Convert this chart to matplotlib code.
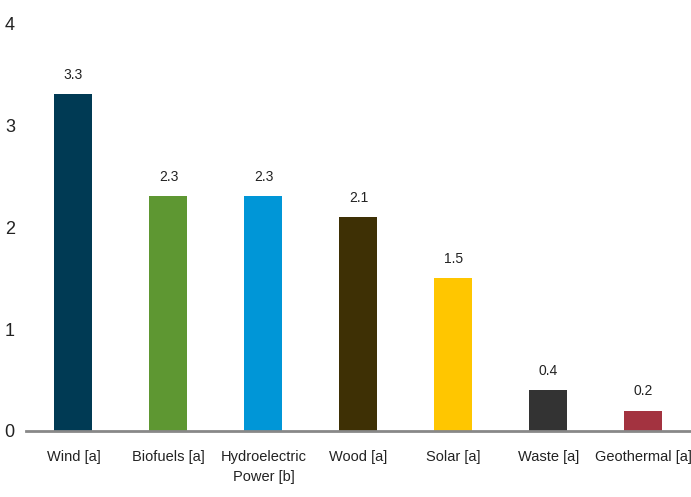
import matplotlib
matplotlib.use("Agg")
import matplotlib.pyplot as plt

# Data
categories = ["Wind [a]", "Biofuels [a]", "Hydroelectric\nPower [b]", "Wood [a]",
              "Solar [a]", "Waste [a]", "Geothermal [a]"]
values = [3.3, 2.3, 2.3, 2.1, 1.5, 0.4, 0.2]
colors = ["#003A54", "#5E9732", "#0096D7", "#3E3005", "#FFC600", "#333333", "#A33340"]
yticks = [0, 1, 2, 3, 4]

plt.rcParams['font.family'] = ['Liberation Sans', 'DejaVu Sans']

fig = plt.figure(figsize=(6.91, 4.97), dpi=100)
ax = fig.add_axes([0.0376, 0.1328, 0.9624, 0.8209])

x = range(len(categories))
bars = ax.bar(x, values, width=0.4, color=colors)
for b, v in zip(bars, values):
    ax.text(b.get_x() + b.get_width() / 2, v + 0.12, f"{v:.1f}",
            ha="center", va="bottom", fontsize=10, color="#222222")

ax.set_xlim(-0.5, len(categories) - 0.5)
ax.set_ylim(0, 4)
ax.set_yticks(yticks)
ax.set_xticks(list(x))
ax.set_xticklabels(categories, fontsize=10.5, color="#222222", linespacing=1.5)
ax.tick_params(axis="y", length=0, labelsize=13, labelcolor="#222222", pad=8)
ax.tick_params(axis="x", length=0, pad=14)

for s in ["top", "right", "left"]:
    ax.spines[s].set_visible(False)
ax.spines["bottom"].set_color("#888888")
ax.spines["bottom"].set_linewidth(2)

fig.savefig("out.png", dpi=100)
